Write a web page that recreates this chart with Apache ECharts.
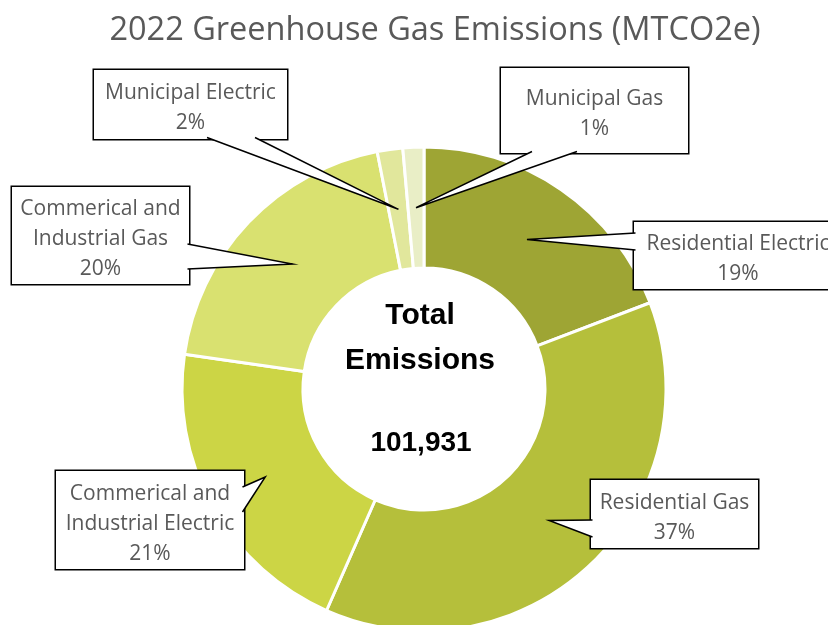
<!DOCTYPE html>
<html><head><meta charset="utf-8">
<script src="https://cdn.jsdelivr.net/npm/echarts@6/dist/echarts.min.js"></script>
<style>html,body{margin:0;padding:0;background:#fff}#c{width:828px;height:625px}</style>
</head><body><div id="c"></div>
<script>
// ---- data ----
const categories = ['Residential Electric', 'Residential Gas', 'Commerical and\nIndustrial Electric', 'Commerical and\nIndustrial Gas', 'Municipal Electric', 'Municipal Gas'];
const emissions = [19570, 38120, 21100, 19980, 1735, 1426];
const chartTitle = '2022 Greenhouse Gas Emissions (MTCO2e)';
const centerLines = ['Total', 'Emissions'];

// ---- styles / layout ----
const sliceColors = ['#9ea534', '#b5bf3b', '#ccd545', '#d9e170', '#e1e79c', '#e9eec6'];
const PIE_CENTER = [424, 389];
const PIE_RADIUS = [121, 242];
const LINE_H = 30;
const TEXT_SHIFT = 4;
// callout box: center x/y, width, height, edge carrying the pointer, pointer base offsets
const calloutLayout = [
  {cx: 738, cy: 255.5, w: 208, h: 67, edge: 'left', a: -22.5, b: -5.5},
  {cx: 674.5, cy: 514, w: 167, h: 68, edge: 'left', a: 6, b: 23},
  {cx: 150, cy: 520, w: 188, h: 98, edge: 'right', a: -33, b: -8},
  {cx: 100.5, cy: 235.5, w: 177, h: 97, edge: 'right', a: 8.5, b: 33.5},
  {cx: 190.5, cy: 104.5, w: 193, h: 69, edge: 'bottom', a: 16.5, b: 64.5},
  {cx: 594.5, cy: 110.5, w: 187, h: 85, edge: 'bottom', a: -62.5, b: -17.5}
];

const total = emissions.reduce((s, v) => s + v, 0);
const data = categories.map((name, i) => {
  const L = calloutLayout[i];
  const nLines = name.split('\n').length + 1;
  const pv = (L.h - nLines * LINE_H) / 2;
  return {
    name: name,
    value: emissions[i],
    itemStyle: {color: sliceColors[i]},
    label: {width: L.w, padding: [pv + TEXT_SHIFT, 0, pv - TEXT_SHIFT, 0]}
  };
});

const chart = echarts.init(document.getElementById('c'), null, {renderer: 'canvas'});

function calloutLayoutFn(p) {
  const L = calloutLayout[p.dataIndex];
  const rMid = (PIE_RADIUS[0] + PIE_RADIUS[1]) / 2;
  let dx, dy;
  if (p.labelLinePoints && p.labelLinePoints.length) {
    dx = p.labelLinePoints[0][0] - PIE_CENTER[0];
    dy = p.labelLinePoints[0][1] - PIE_CENTER[1];
  } else {
    let cum = 0;
    for (let k = 0; k < p.dataIndex; k++) cum += emissions[k];
    const ang = (cum + emissions[p.dataIndex] / 2) / total * 2 * Math.PI;
    dx = Math.sin(ang); dy = -Math.cos(ang);
  }
  const d = Math.sqrt(dx * dx + dy * dy);
  const tip = [PIE_CENTER[0] + dx / d * rMid, PIE_CENTER[1] + dy / d * rMid];
  const inset = 1.5;
  const left = L.cx - L.w / 2, right = L.cx + L.w / 2, bottom = L.cy + L.h / 2, top = L.cy - L.h / 2;
  let A, B;
  if (L.edge === 'left') { A = [left + inset, L.cy + L.a]; B = [left + inset, L.cy + L.b]; }
  else if (L.edge === 'right') { A = [right - inset, L.cy + L.a]; B = [right - inset, L.cy + L.b]; }
  else if (L.edge === 'bottom') { A = [L.cx + L.a, bottom - inset]; B = [L.cx + L.b, bottom - inset]; }
  else { A = [L.cx + L.a, top + inset]; B = [L.cx + L.b, top + inset]; }
  return {x: L.cx, y: top, align: 'center', verticalAlign: 'top', labelLinePoints: [A, tip, B]};
}

chart.setOption({
  animation: false,
  backgroundColor: '#ffffff',
  graphic: [
    {type: 'text', x: 435, y: 31, silent: true, style: {text: chartTitle, fill: '#595959', fontSize: 32.5, fontFamily: '"Open Sans"', align: 'center', verticalAlign: 'middle', textAlign: 'center', textVerticalAlign: 'middle'}},
    {type: 'text', x: 420, y: 316, z: 10, silent: true, style: {text: centerLines[0], fill: '#000', fontSize: 30, fontWeight: 'bold', fontFamily: '"Liberation Sans"', align: 'center', verticalAlign: 'middle', textAlign: 'center', textVerticalAlign: 'middle'}},
    {type: 'text', x: 420, y: 361, z: 10, silent: true, style: {text: centerLines[1], fill: '#000', fontSize: 30, fontWeight: 'bold', fontFamily: '"Liberation Sans"', align: 'center', verticalAlign: 'middle', textAlign: 'center', textVerticalAlign: 'middle'}},
    {type: 'text', x: 421, y: 443, z: 10, silent: true, style: {text: total.toLocaleString('en-US'), fill: '#000', fontSize: 28, fontWeight: 'bold', fontFamily: '"Liberation Sans"', align: 'center', verticalAlign: 'middle', textAlign: 'center', textVerticalAlign: 'middle'}}
  ],
  series: [{
    type: 'pie',
    silent: true,
    center: PIE_CENTER,
    radius: PIE_RADIUS,
    startAngle: 90,
    clockwise: true,
    avoidLabelOverlap: false,
    itemStyle: {borderColor: '#ffffff', borderWidth: 3},
    label: {
      show: true,
      position: 'outside',
      formatter: p => p.name + '\n' + Math.round(p.value / total * 100) + '%',
      color: '#595959',
      fontSize: 21,
      fontFamily: '"Open Sans"',
      lineHeight: LINE_H,
      align: 'center',
      backgroundColor: '#ffffff',
      borderColor: '#000000',
      borderWidth: 1.5,
      overflow: 'none'
    },
    labelLine: {show: true, length: 10, length2: 10, smooth: false, lineStyle: {color: '#000000', width: 1.5}},
    labelLayout: calloutLayoutFn,
    data: data
  }]
});

// fill the callout pointers white and lift them above the boxes so the pointer joins the box
function fillPointers() {
  const zr = chart.getZr();
  zr.storage.getDisplayList(true).forEach(el => {
    if (el.type === 'polyline') {
      el.setStyle({fill: '#ffffff'});
      el.z = 50; el.z2 = 1000;
      el.markRedraw();
    }
  });
  zr.refreshImmediately();
}
fillPointers();
chart.on('finished', fillPointers);
</script>
</body></html>
